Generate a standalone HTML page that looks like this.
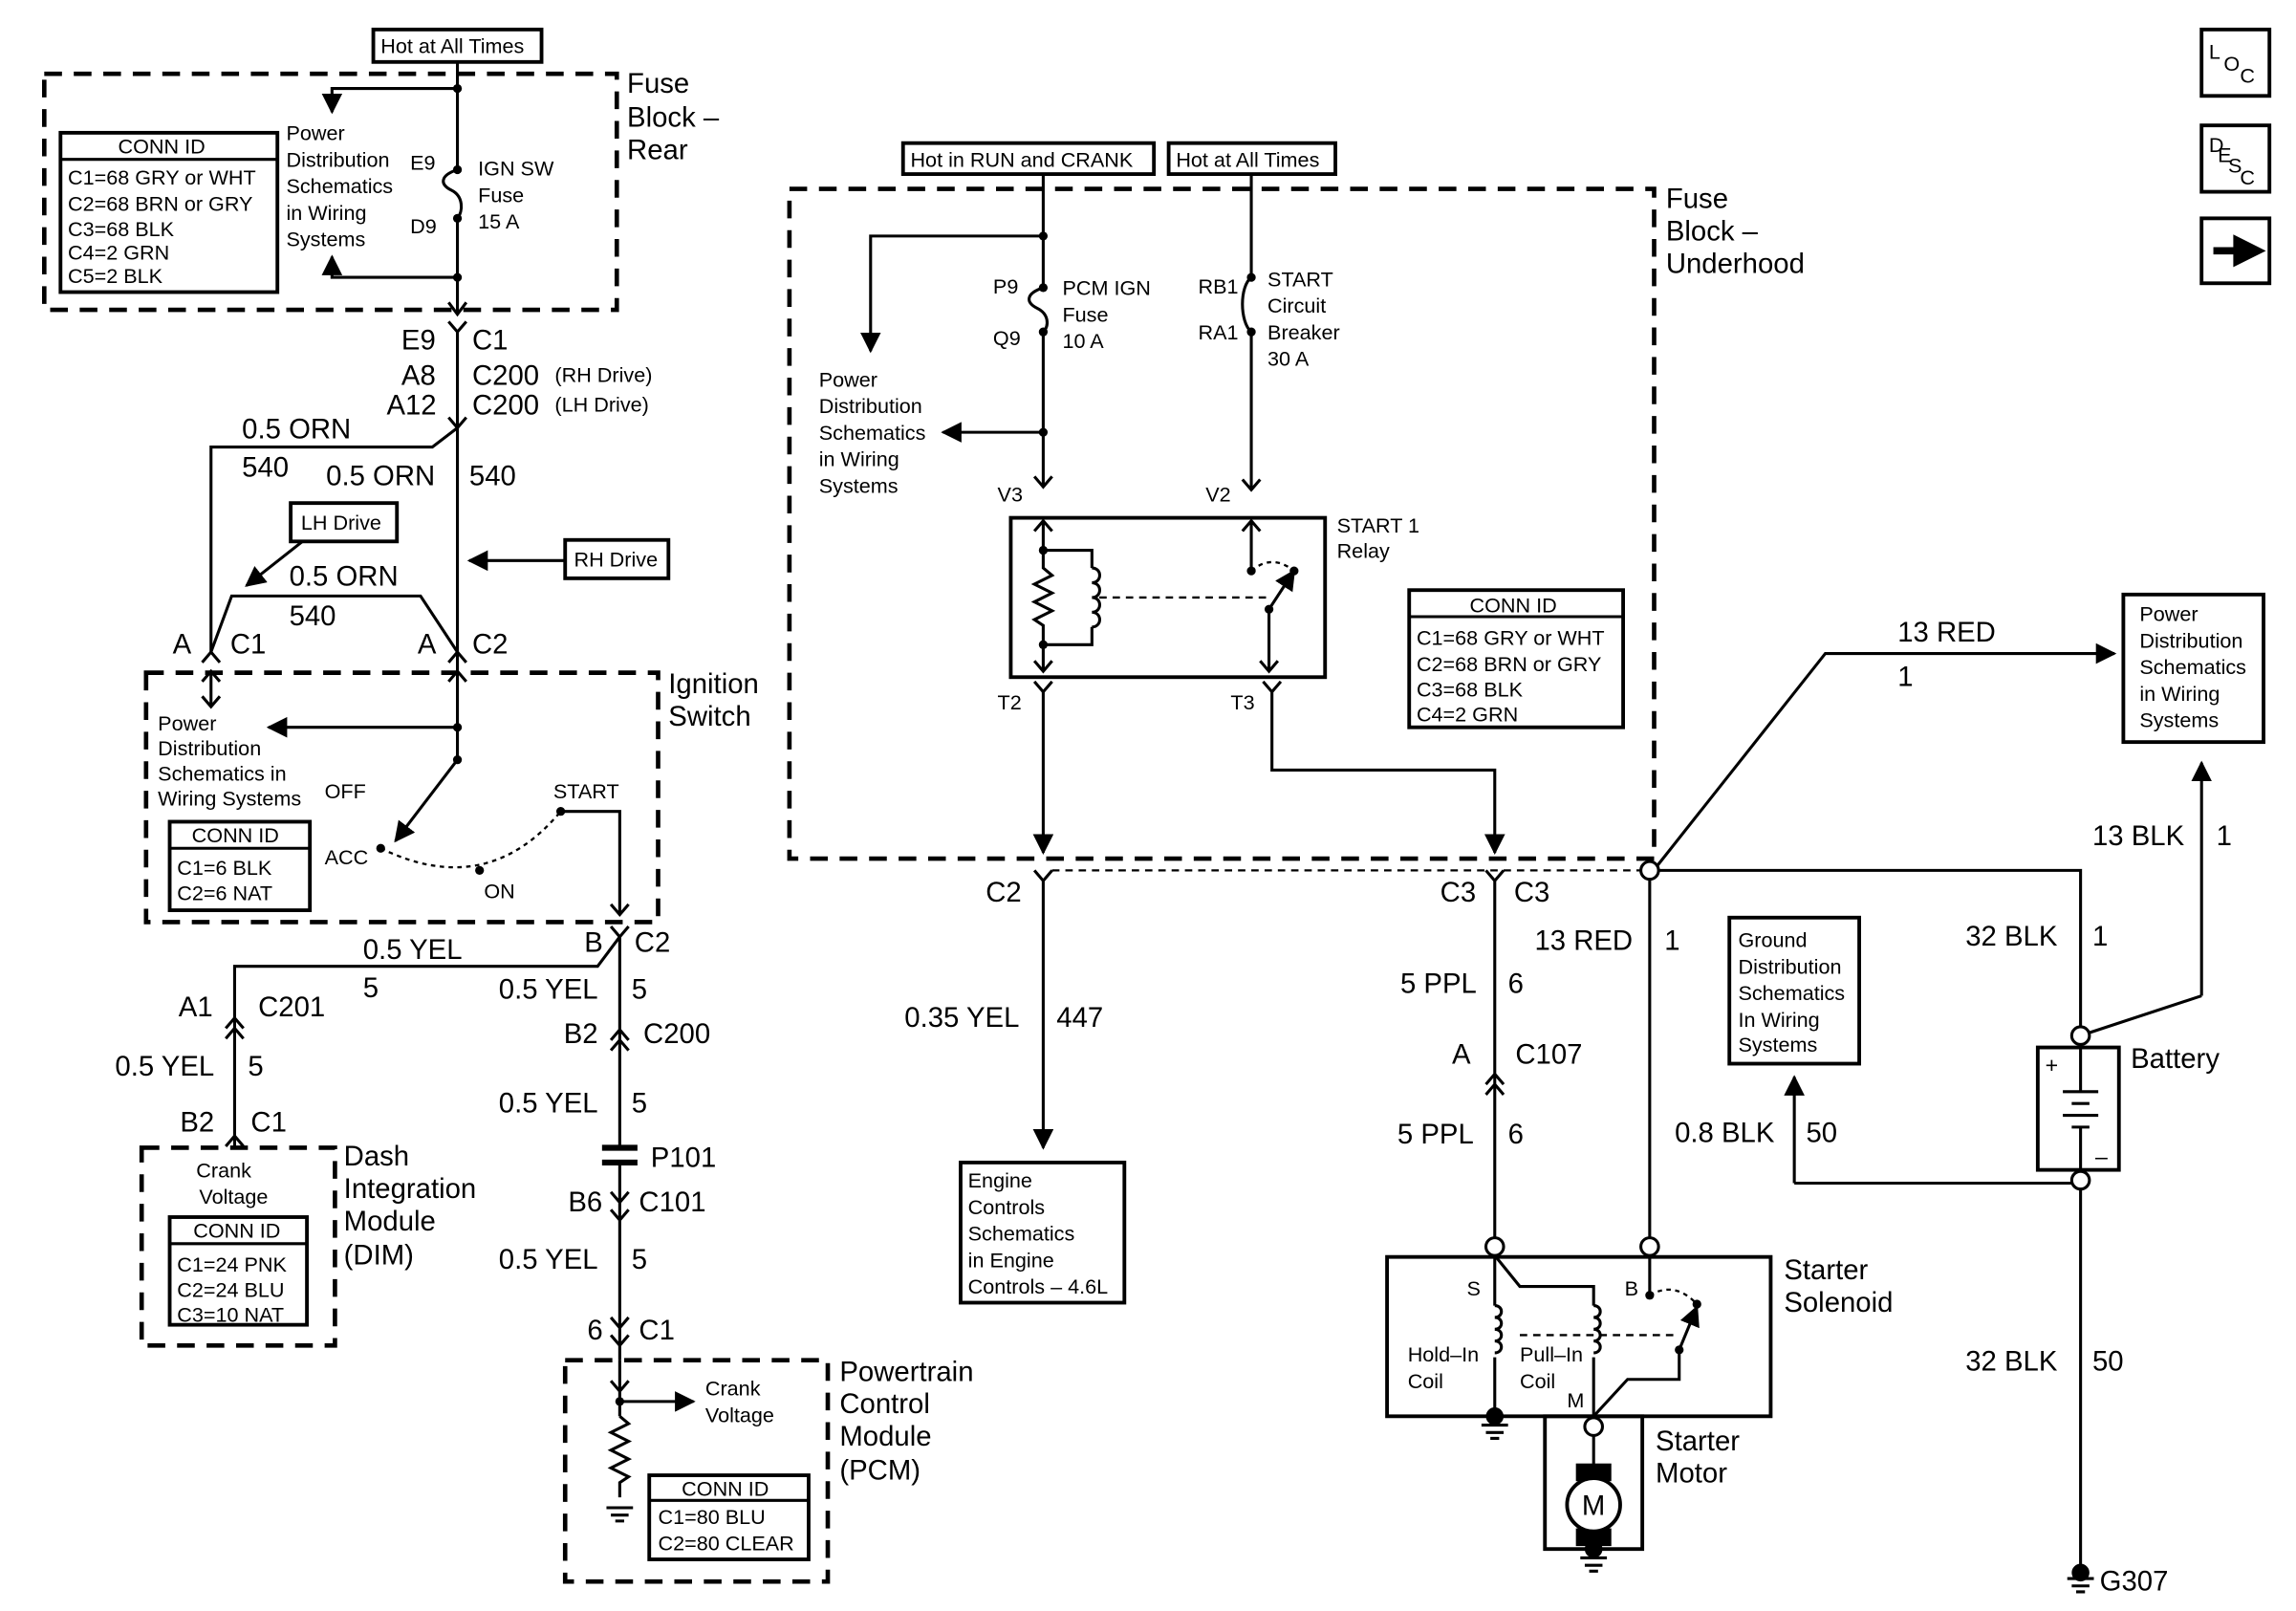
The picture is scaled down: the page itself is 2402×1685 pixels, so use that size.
<!DOCTYPE html>
<html><head><meta charset="utf-8"><style>
html,body{margin:0;padding:0;background:#fff}
svg{display:block}
text{font-family:"Liberation Sans",sans-serif;fill:#000}
.s{font-size:14px}.m{font-size:15px}.l{font-size:19px}
</style></head><body>
<svg width="2402" height="1685" viewBox="0 0 1556 1092" preserveAspectRatio="none" xmlns="http://www.w3.org/2000/svg">
<defs>
<marker id="a" viewBox="0 0 10 10" refX="9" refY="5" markerWidth="7" markerHeight="7" orient="auto"><path d="M0,0L10,5L0,10z" fill="#000"/></marker>
</defs>
<g fill="none" stroke="#000" stroke-width="2">
<rect x="253" y="20" width="114" height="22" stroke-width="2.5"/>
<rect x="30" y="50" width="388" height="160" stroke-width="3" stroke-dasharray="12,8"/>
<path d="M310,42V115M310,148V213"/>
<path d="M310,115c-12,4 -12,10 -4,14c8,4 8,14 4,19"/>
<path d="M310,60H225V76" marker-end="url(#a)"/>
<path d="M310,188H225V174" marker-end="url(#a)"/>
<rect x="41" y="90" width="147" height="108" stroke-width="2.5"/>
<path d="M41,108H188"/>
<path d="M304,205l6,8l6,-8M304,218l6,7l6,-7M310,225V290M304,283l6,7l6,-7M310,290V442"/>
<path d="M310,290L293,303H143V442"/>
<rect x="197" y="341" width="72" height="26" stroke-width="2.5"/>
<path d="M205,367L167,397" marker-end="url(#a)"/>
<rect x="383" y="366" width="70" height="26" stroke-width="2.5"/>
<path d="M383,380H318" marker-end="url(#a)"/>
<path d="M143,442L157,404H285L310,442"/>
<rect x="99" y="456" width="347" height="169" stroke-width="3" stroke-dasharray="12,8"/>
<path d="M137,449l6,-7l6,7M137,462l6,-7l6,7M143,456V478M137,472l6,7l6,-7"/>
<path d="M310,442V515M304,449l6,-7l6,7M304,462l6,-7l6,7"/>
<path d="M310,493H182" marker-end="url(#a)"/>
<path d="M310,515L268,570" marker-end="url(#a)"/>
<path d="M258,575Q330,610 380,550" stroke-dasharray="3,3" stroke-width="1.5"/>
<path d="M380,550H420V620M414,613l6,7l6,-7M414,628l6,7l6,-7"/>
<rect x="115" y="557" width="95" height="60" stroke-width="2.5"/>
<path d="M115,575H210"/>
<path d="M420,635L405,655H159V778M153,697l6,-7l6,7M153,704l6,-7l6,7M153,777l6,-7l6,7"/>
<path d="M420,635V778M414,705l6,-7l6,7M414,712l6,-7l6,7"/>
<path d="M408,778H432M408,788H432" stroke-width="4"/>
<path d="M420,788V922M414,808l6,7l6,-7M414,820l6,7l6,-7M414,893l6,7l6,-7M414,905l6,7l6,-7"/>
<rect x="96" y="778" width="131" height="134" stroke-width="3" stroke-dasharray="12,8"/>
<rect x="115" y="825" width="93" height="73" stroke-width="2.5"/>
<path d="M115,843H208"/>
<rect x="383" y="922" width="178" height="150" stroke-width="3" stroke-dasharray="12,8"/>
<path d="M420,922V960M414,936l6,7l6,-7M420,960l6,5l-12,6l12,6l-12,6l12,6l-12,6l12,6l-6,4V1015"/>
<path d="M420,950H470" marker-end="url(#a)"/>
<path d="M411,1022H429M414,1027H426M417,1031H423"/>
<rect x="440" y="1000" width="108" height="57" stroke-width="2.5"/>
<path d="M440,1017H548"/>
<rect x="612" y="97" width="170" height="21" stroke-width="2.5"/>
<rect x="792" y="97" width="113" height="21" stroke-width="2.5"/>
<rect x="535" y="128" width="586" height="454" stroke-width="3" stroke-dasharray="12,8"/>
<path d="M707,118V195M707,225V330M701,323l6,7l6,-7"/>
<path d="M707,195c-12,4 -12,10 -4,14c8,4 8,12 4,16"/>
<path d="M707,160H590V238" marker-end="url(#a)"/>
<path d="M707,293H639" marker-end="url(#a)"/>
<path d="M848,118V188M848,225V332M842,325l6,7l6,-7"/>
<path d="M848,188c-8,6 -8,30 0,37"/>
<rect x="685" y="351" width="213" height="108" stroke-width="2.5"/>
<path d="M701,360l6,-7l6,7M707,353V373M707,373H740V385M740,425V437H707M707,373V385l6,5l-12,6l12,6l-12,6l12,6l-12,6l6,4V455M701,448l6,7l6,-7"/>
<path d="M740,385c7,0 7,10 0,10c7,0 7,10 0,10c7,0 7,10 0,10c7,0 7,10 0,10"/>
<path d="M745,405H860" stroke-dasharray="5,4" stroke-width="1.5"/>
<path d="M842,360l6,-7l6,7M848,353V387"/>
<path d="M860,413L877,387" marker-end="url(#a)"/>
<path d="M848,387Q862,375 877,387" stroke-dasharray="3,3" stroke-width="1.5"/>
<path d="M860,413V455M854,448l6,7l6,-7"/>
<path d="M701,462l6,7l6,-7"/><path d="M707,469V578" marker-end="url(#a)"/>
<path d="M856,462l6,7l6,-7M862,469V522H1013V578" marker-end="url(#a)"/>
<rect x="955" y="400" width="145" height="93" stroke-width="2.5"/>
<path d="M955,418H1100"/>
<path d="M713,590H1112" stroke-dasharray="5,4" stroke-width="1.5"/>
<path d="M701,590l6,7l6,-7M707,597V778" marker-end="url(#a)"/>
<rect x="651" y="788" width="111" height="95" stroke-width="2.5"/>
<path d="M1007,590l6,7l6,-7M1013,597V839M1007,735l6,-7l6,7M1007,742l6,-7l6,7"/>
<circle cx="1118" cy="590" r="6"/>
<path d="M1123,587L1237,443H1433" marker-end="url(#a)"/>
<path d="M1124,590H1410V696"/>
<path d="M1118,596V839"/>
<path d="M1492,675L1416,700"/><path d="M1492,675V517" marker-end="url(#a)"/>
<rect x="1439" y="403" width="95" height="100" stroke-width="2.5"/>
<rect x="1172" y="622" width="88" height="99" stroke-width="2.5"/>
<path d="M1216,802V730" marker-end="url(#a)"/>
<path d="M1216,802H1404"/>
<circle cx="1410" cy="702" r="6"/><circle cx="1410" cy="800" r="6"/>
<rect x="1381" y="710" width="55" height="83" stroke-width="2.5"/>
<path d="M1410,708V740M1398,740H1422M1404,748H1416M1398,756H1422M1404,764H1416M1410,764V794"/>
<path d="M1410,806V1062M1401,1070H1419M1404,1075H1416M1407,1079H1413"/>
<circle cx="1410" cy="1066" r="5" fill="#000"/>
<circle cx="1013" cy="845" r="6"/><circle cx="1118" cy="845" r="6"/>
<rect x="940" y="852" width="260" height="108" stroke-width="2.5"/>
<path d="M1013,851V885M1013,920V960"/>
<path d="M1013,885c6,0 6,8 0,8c6,0 6,8 0,8c6,0 6,8 0,8c6,0 6,8 0,8"/>
<path d="M1013,851L1030,872H1080V885M1080,920V962"/>
<path d="M1080,885c6,0 6,8 0,8c6,0 6,8 0,8c6,0 6,8 0,8c6,0 6,8 0,8"/>
<path d="M1030,905H1138" stroke-dasharray="5,4" stroke-width="1.5"/>
<path d="M1118,851V878"/>
<path d="M1118,878Q1135,868 1150,884" stroke-dasharray="3,3" stroke-width="1.5"/>
<path d="M1138,915L1150,886" marker-end="url(#a)"/>
<path d="M1138,915V935H1103L1080,960"/>
<circle cx="1013" cy="960" r="5" fill="#000"/>
<path d="M1004,966H1022M1007,971H1019M1010,975H1016"/>
<rect x="1047" y="960" width="66" height="90" stroke-width="2.5"/>
<circle cx="1080" cy="967" r="6" fill="#fff"/>
<path d="M1080,973V996"/>
<rect x="1069" y="993" width="22" height="10" fill="#000"/>
<rect x="1069" y="1037" width="22" height="10" fill="#000"/>
<circle cx="1080" cy="1020" r="18" fill="#fff" stroke-width="2.5"/>
<circle cx="1080" cy="1050" r="5" fill="#000"/>
<path d="M1071,1056H1089M1074,1061H1086M1077,1065H1083"/>
<rect x="1492" y="20" width="46" height="45" stroke-width="2.5"/>
<rect x="1492" y="85" width="46" height="45" stroke-width="2.5"/>
<rect x="1492" y="148" width="46" height="44" stroke-width="2.5"/>
</g>
<g fill="#000">
<circle cx="310" cy="60" r="3"/><circle cx="310" cy="115" r="3"/><circle cx="310" cy="148" r="3"/><circle cx="310" cy="188" r="3"/>
<circle cx="310" cy="493" r="3"/><circle cx="310" cy="515" r="3"/><circle cx="258" cy="575" r="3"/><circle cx="325" cy="590" r="3"/><circle cx="380" cy="550" r="3"/>
<circle cx="420" cy="950" r="3"/>
<circle cx="707" cy="160" r="3"/><circle cx="707" cy="195" r="3"/><circle cx="707" cy="225" r="3"/><circle cx="707" cy="293" r="3"/>
<circle cx="848" cy="188" r="3"/><circle cx="848" cy="225" r="3"/>
<circle cx="707" cy="373" r="3"/><circle cx="707" cy="437" r="3"/><circle cx="848" cy="387" r="3"/><circle cx="877" cy="387" r="3"/><circle cx="860" cy="413" r="3"/>
<circle cx="1118" cy="878" r="3"/><circle cx="1150" cy="884" r="3"/><circle cx="1138" cy="915" r="3"/>
<path d="M1500,170H1516V163L1530,170L1516,177V170z" stroke="#000" stroke-width="5"/>
</g>
<text x="258" y="36" class="s">Hot at All Times</text>
<text x="425" y="63" class="l">Fuse</text><text x="425" y="86" class="l">Block –</text><text x="425" y="108" class="l">Rear</text>
<text x="80" y="104" class="s">CONN ID</text>
<text x="46" y="125" class="s">C1=68 GRY or WHT</text><text x="46" y="143" class="s">C2=68 BRN or GRY</text><text x="46" y="160" class="s">C3=68 BLK</text><text x="46" y="176" class="s">C4=2 GRN</text><text x="46" y="192" class="s">C5=2 BLK</text>
<text x="194" y="95" class="s">Power</text><text x="194" y="113" class="s">Distribution</text><text x="194" y="131" class="s">Schematics</text><text x="194" y="149" class="s">in Wiring</text><text x="194" y="167" class="s">Systems</text>
<text x="278" y="115" class="s">E9</text><text x="278" y="158" class="s">D9</text>
<text x="324" y="119" class="s">IGN SW</text><text x="324" y="137" class="s">Fuse</text><text x="324" y="155" class="s">15 A</text>
<text x="272" y="237" class="l">E9</text><text x="320" y="237" class="l">C1</text>
<text x="272" y="261" class="l">A8</text><text x="320" y="261" class="l">C200</text><text x="376" y="259" class="s">(RH Drive)</text>
<text x="262" y="281" class="l">A12</text><text x="320" y="281" class="l">C200</text><text x="376" y="279" class="s">(LH Drive)</text>
<text x="164" y="297" class="l">0.5 ORN</text><text x="164" y="323" class="l">540</text><text x="221" y="329" class="l">0.5 ORN</text><text x="318" y="329" class="l">540</text>
<text x="204" y="359" class="s">LH Drive</text><text x="389" y="384" class="s">RH Drive</text>
<text x="196" y="397" class="l">0.5 ORN</text><text x="196" y="424" class="l">540</text>
<text x="117" y="443" class="l">A</text><text x="156" y="443" class="l">C1</text><text x="283" y="443" class="l">A</text><text x="320" y="443" class="l">C2</text>
<text x="453" y="470" class="l">Ignition</text><text x="453" y="492" class="l">Switch</text>
<text x="107" y="495" class="s">Power</text><text x="107" y="512" class="s">Distribution</text><text x="107" y="529" class="s">Schematics in</text><text x="107" y="546" class="s">Wiring Systems</text>
<text x="220" y="541" class="s">OFF</text><text x="375" y="541" class="s">START</text><text x="220" y="586" class="s">ACC</text><text x="328" y="609" class="s">ON</text>
<text x="130" y="571" class="s">CONN ID</text><text x="120" y="593" class="s">C1=6 BLK</text><text x="120" y="610" class="s">C2=6 NAT</text>
<text x="396" y="645" class="l">B</text><text x="430" y="645" class="l">C2</text>
<text x="246" y="650" class="l">0.5 YEL</text><text x="246" y="676" class="l">5</text><text x="338" y="677" class="l">0.5 YEL</text><text x="428" y="677" class="l">5</text>
<text x="121" y="689" class="l">A1</text><text x="175" y="689" class="l">C201</text>
<text x="78" y="729" class="l">0.5 YEL</text><text x="168" y="729" class="l">5</text>
<text x="122" y="767" class="l">B2</text><text x="170" y="767" class="l">C1</text>
<text x="382" y="707" class="l">B2</text><text x="436" y="707" class="l">C200</text>
<text x="338" y="754" class="l">0.5 YEL</text><text x="428" y="754" class="l">5</text>
<text x="441" y="791" class="l">P101</text>
<text x="385" y="821" class="l">B6</text><text x="433" y="821" class="l">C101</text>
<text x="338" y="860" class="l">0.5 YEL</text><text x="428" y="860" class="l">5</text>
<text x="398" y="908" class="l">6</text><text x="433" y="908" class="l">C1</text>
<text x="233" y="790" class="l">Dash</text><text x="233" y="812" class="l">Integration</text><text x="233" y="834" class="l">Module</text><text x="233" y="857" class="l">(DIM)</text>
<text x="133" y="798" class="s">Crank</text><text x="135" y="816" class="s">Voltage</text>
<text x="131" y="839" class="s">CONN ID</text><text x="120" y="862" class="s">C1=24 PNK</text><text x="120" y="879" class="s">C2=24 BLU</text><text x="120" y="896" class="s">C3=10 NAT</text>
<text x="569" y="936" class="l">Powertrain</text><text x="569" y="958" class="l">Control</text><text x="569" y="980" class="l">Module</text><text x="569" y="1003" class="l">(PCM)</text>
<text x="478" y="946" class="s">Crank</text><text x="478" y="964" class="s">Voltage</text>
<text x="462" y="1014" class="s">CONN ID</text><text x="446" y="1033" class="s">C1=80 BLU</text><text x="446" y="1051" class="s">C2=80 CLEAR</text>
<text x="617" y="113" class="s">Hot in RUN and CRANK</text><text x="797" y="113" class="s">Hot at All Times</text>
<text x="1129" y="141" class="l">Fuse</text><text x="1129" y="163" class="l">Block –</text><text x="1129" y="185" class="l">Underhood</text>
<text x="673" y="199" class="s">P9</text><text x="673" y="234" class="s">Q9</text>
<text x="720" y="200" class="s">PCM IGN</text><text x="720" y="218" class="s">Fuse</text><text x="720" y="236" class="s">10 A</text>
<text x="812" y="199" class="s">RB1</text><text x="812" y="230" class="s">RA1</text>
<text x="859" y="194" class="s">START</text><text x="859" y="212" class="s">Circuit</text><text x="859" y="230" class="s">Breaker</text><text x="859" y="248" class="s">30 A</text>
<text x="555" y="262" class="s">Power</text><text x="555" y="280" class="s">Distribution</text><text x="555" y="298" class="s">Schematics</text><text x="555" y="316" class="s">in Wiring</text><text x="555" y="334" class="s">Systems</text>
<text x="676" y="340" class="s">V3</text><text x="817" y="340" class="s">V2</text>
<text x="906" y="361" class="s">START 1</text><text x="906" y="378" class="s">Relay</text>
<text x="676" y="481" class="s">T2</text><text x="834" y="481" class="s">T3</text>
<text x="996" y="415" class="s">CONN ID</text><text x="960" y="437" class="s">C1=68 GRY or WHT</text><text x="960" y="455" class="s">C2=68 BRN or GRY</text><text x="960" y="472" class="s">C3=68 BLK</text><text x="960" y="489" class="s">C4=2 GRN</text>
<text x="668" y="611" class="l">C2</text>
<text x="613" y="696" class="l">0.35 YEL</text><text x="716" y="696" class="l">447</text>
<text x="656" y="805" class="s">Engine</text><text x="656" y="823" class="s">Controls</text><text x="656" y="841" class="s">Schematics</text><text x="656" y="859" class="s">in Engine</text><text x="656" y="877" class="s">Controls – 4.6L</text>
<text x="976" y="611" class="l">C3</text><text x="1026" y="611" class="l">C3</text>
<text x="1040" y="644" class="l">13 RED</text><text x="1128" y="644" class="l">1</text>
<text x="949" y="673" class="l">5 PPL</text><text x="1022" y="673" class="l">6</text>
<text x="984" y="721" class="l">A</text><text x="1027" y="721" class="l">C107</text>
<text x="947" y="775" class="l">5 PPL</text><text x="1022" y="775" class="l">6</text>
<text x="1286" y="435" class="l">13 RED</text><text x="1286" y="465" class="l">1</text>
<text x="1418" y="573" class="l">13 BLK</text><text x="1502" y="573" class="l">1</text>
<text x="1332" y="641" class="l">32 BLK</text><text x="1418" y="641" class="l">1</text>
<text x="1178" y="642" class="s">Ground</text><text x="1178" y="660" class="s">Distribution</text><text x="1178" y="678" class="s">Schematics</text><text x="1178" y="696" class="s">In Wiring</text><text x="1178" y="713" class="s">Systems</text>
<text x="1450" y="421" class="s">Power</text><text x="1450" y="439" class="s">Distribution</text><text x="1450" y="457" class="s">Schematics</text><text x="1450" y="475" class="s">in Wiring</text><text x="1450" y="493" class="s">Systems</text>
<text x="1386" y="727" class="m">+</text><text x="1420" y="789" class="m">–</text>
<text x="1444" y="724" class="l">Battery</text>
<text x="1135" y="774" class="l">0.8 BLK</text><text x="1224" y="774" class="l">50</text>
<text x="1332" y="929" class="l">32 BLK</text><text x="1418" y="929" class="l">50</text>
<text x="1423" y="1078" class="l">G307</text>
<text x="1209" y="867" class="l">Starter</text><text x="1209" y="889" class="l">Solenoid</text>
<text x="994" y="878" class="s">S</text><text x="1101" y="878" class="s">B</text>
<text x="954" y="923" class="s">Hold–In</text><text x="954" y="941" class="s">Coil</text>
<text x="1030" y="923" class="s">Pull–In</text><text x="1030" y="941" class="s">Coil</text>
<text x="1062" y="954" class="s">M</text>
<text x="1072" y="1027" class="l">M</text>
<text x="1122" y="983" class="l">Starter</text><text x="1122" y="1005" class="l">Motor</text>
<text x="1497" y="40" class="s">L</text><text x="1507" y="48" class="s">O</text><text x="1518" y="56" class="s">C</text>
<text x="1497" y="103" class="s">D</text><text x="1503" y="110" class="s">E</text><text x="1510" y="117" class="s">S</text><text x="1518" y="125" class="s">C</text>
</svg>
</body></html>
